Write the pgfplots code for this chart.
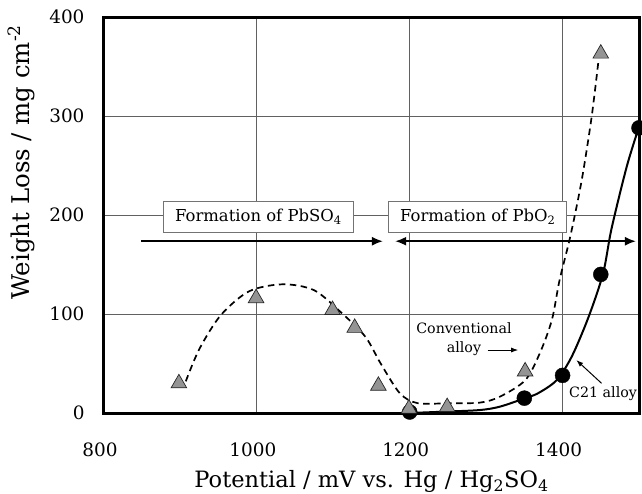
\documentclass[border=0pt]{standalone}
\usepackage{pgfplots}
\pgfplotsset{compat=1.18}
\usepackage{fontspec}
\setmainfont{DejaVu Serif}
\usetikzlibrary{arrows.meta}
\begin{document}
\begin{tikzpicture}
\path[use as bounding box] (-104bp,-81bp) rectangle (538bp,413bp);
\begin{axis}[
 at={(0,0)}, anchor=south west,
 scale only axis, width=535bp, height=396bp,
 xmin=800, xmax=1500, ymin=0, ymax=400,
 xtick={800,1000,1200,1400}, ytick={0,100,200,300,400},
 grid=major, major grid style={line width=1bp, black!62},
 major tick length=0pt,
 axis line style={line width=3bp},
 /pgf/number format/assume math mode=true,
 /pgf/number format/1000 sep={},
 tick label style={font=\fontsize{18.5}{21}\selectfont},
 xticklabel style={yshift=-26bp, xshift=-4bp},
 yticklabel style={xshift=-16bp},
 xlabel={Potential / mV vs. Hg / Hg\textsubscript{2}SO\textsubscript{4}},
 ylabel={Weight Loss / mg cm\textsuperscript{-2}},
 xlabel style={font=\fontsize{22.6}{26}\selectfont, at={(axis description cs:0.5,-0.187)}, anchor=base},
 ylabel style={font=\fontsize{24.5}{28}\selectfont, at={(axis description cs:-0.155,0.634)}, anchor=center},
 clip=false,
]
% conventional alloy fitted curve (dashed)
\addplot[smooth, tension=0.5, line width=1.7bp, dash pattern=on 6.5bp off 4.5bp] coordinates {
 (907,32) (925,65) (953,99) (990,123) (1034,130) (1075,124) (1111,101) (1142,77)
 (1162,50) (1187,20) (1210,10) (1250,9.8) (1292,10.5) (1318,16.5) (1351,33) (1370,60)
 (1386,94) (1396,134) (1410,178) (1425,235) (1438,299) (1447,356)};
% C21 alloy fitted curve (solid)
\addplot[smooth, tension=0.5, line width=2bp] coordinates {
 (1200,0) (1250,1.5) (1292,3) (1318,6.4) (1351,15) (1368,20) (1392,33) (1412,57)
 (1434,97) (1453,141) (1464,186) (1484,249) (1500,289)};
% C21 alloy data
\addplot[only marks, mark=*, mark size=7.5bp, mark options={fill=black, draw=black}] coordinates {
 (1200,1) (1350,15) (1400,38) (1450,140) (1500,288)};
% conventional alloy data
\addplot[only marks, mark=triangle*, mark size=9bp,
 mark options={fill=black!42, draw=black!85, line width=0.7bp}] coordinates {
 (898,30) (999,116) (1099,104) (1128,86) (1159,27.5) (1199,4.4) (1249,6) (1351,42) (1450,363)};

\node[draw=black!55, fill=white, line width=0.9bp, minimum width=190bp, minimum height=31bp,
 font=\fontsize{16.5}{19}\selectfont] at (axis cs:1002,198) {Formation of PbSO\textsubscript{4}};
\node[draw=black!55, fill=white, line width=0.9bp, minimum width=178bp, minimum height=31bp,
 font=\fontsize{16.5}{19}\selectfont] at (axis cs:1289,198) {Formation of PbO\textsubscript{2}};
\draw[line width=1.8bp, -{Latex[length=11bp,width=9bp]}] (axis cs:849,173.5) -- (axis cs:1165,173.5);
\draw[line width=1.8bp, {Latex[length=11bp,width=9bp]}-{Latex[length=11bp,width=9bp]}] (axis cs:1181,173.5) -- (axis cs:1496,173.5);

\node[font=\fontsize{14.3}{17}\selectfont] at (axis cs:1271,86) {Conventional};
\node[font=\fontsize{14.3}{17}\selectfont] at (axis cs:1271,65) {alloy};
\draw[line width=1bp, -{Latex[length=7bp,width=5bp]}] (axis cs:1302,63.6) -- (axis cs:1342,63.6);
\node[font=\fontsize{14.3}{17}\selectfont] at (axis cs:1453,20) {C21 alloy};
\draw[line width=1bp, -{Latex[length=7bp,width=5bp]}] (axis cs:1451,30) -- (axis cs:1418,53.5);
\end{axis}
\end{tikzpicture}
\end{document}
